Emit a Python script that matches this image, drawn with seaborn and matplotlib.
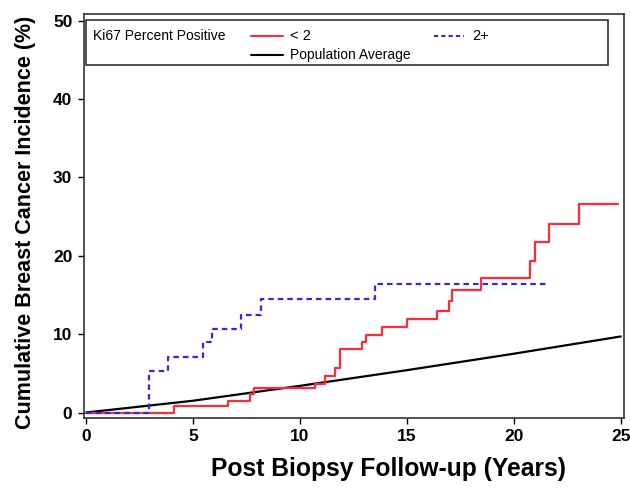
"""Cumulative breast cancer incidence by Ki67 group, step curves with population average."""
import matplotlib
matplotlib.use("Agg")
import matplotlib.pyplot as plt
from matplotlib.lines import Line2D
from matplotlib.patches import Rectangle
import pandas as pd
import seaborn as sns

# Ki67 < 2 group (step curve)
lt2_years = [0, 4.13, 6.63, 7.67, 7.84, 10.7, 11.16, 11.63, 11.87, 12.88, 13.1,
             13.86, 15.0, 16.4, 16.95, 17.1, 18.46, 20.75, 21.0, 21.64, 23.05, 24.85]
lt2_incidence = [0, 0.8, 1.5, 2.4, 3.15, 3.7, 4.7, 5.7, 8.1, 9.0, 9.9,
                 10.9, 11.9, 13.0, 14.2, 15.6, 17.2, 19.3, 21.7, 24.1, 26.6, 26.6]

# Ki67 2+ group (step curve)
p2_years = [0, 2.95, 3.81, 5.49, 5.9, 7.25, 8.19, 13.5, 21.6]
p2_incidence = [0, 5.3, 7.05, 9.0, 10.6, 12.5, 14.45, 16.4, 16.4]

# population average
pop_years = [0, 5, 10, 15, 20, 25]
pop_incidence = [0, 1.5, 3.4, 5.4, 7.5, 9.7]

x_ticks = [0, 5, 10, 15, 20, 25]
y_ticks = [0, 10, 20, 30, 40, 50]

sns.set_theme(style="ticks")
plt.rcParams["font.family"] = ["Liberation Sans", "DejaVu Sans"]
plt.rcParams["text.color"] = "black"
plt.rcParams["axes.labelcolor"] = "black"

df_lt2 = pd.DataFrame({"years": lt2_years, "inc": lt2_incidence})
df_p2 = pd.DataFrame({"years": p2_years, "inc": p2_incidence})
df_pop = pd.DataFrame({"years": pop_years, "inc": pop_incidence})

fig = plt.figure(figsize=(6.3, 4.9), dpi=100)
ax = fig.add_axes([83.5 / 630, 1 - 418 / 490, (624 - 83.5) / 630, (418 - 14) / 490])

red = "#ff2a3a"
blue = "#2b2be6"
sns.lineplot(data=df_pop, x="years", y="inc", ax=ax, color="black", linewidth=1.6)
sns.lineplot(data=df_lt2, x="years", y="inc", ax=ax, color=red, linewidth=1.6,
             drawstyle="steps-post")
sns.lineplot(data=df_p2, x="years", y="inc", ax=ax, color=blue, linewidth=1.6,
             drawstyle="steps-post", linestyle=(0, (2.5, 1.8)))

ax.set_xlim(-0.117, 25.15)
ax.set_ylim(-0.7, 50.83)
ax.set_xticks(x_ticks)
ax.set_yticks(y_ticks)
ax.tick_params(axis="both", direction="out", length=4, width=1, labelsize=12.5,
               colors="black", pad=4)
for lab in ax.get_xticklabels() + ax.get_yticklabels():
    lab.set_fontweight("bold")
for sp in ax.spines.values():
    sp.set_visible(True)
    sp.set_color("#333333")
    sp.set_linewidth(1.2)

ax.set_xlabel("Post Biopsy Follow-up (Years)", fontsize=17.7, fontweight="bold",
              color="black")
ax.set_ylabel("Cumulative Breast Cancer Incidence (%)", fontsize=15.5, fontweight="bold",
              color="black")
ax.xaxis.set_label_coords(0.565, -0.096)
ax.yaxis.set_label_coords(-0.088, 0.485)

# legend box drawn inside the axes
def fx(px):
    return (px - 83.5) / (624 - 83.5)

def fy(py):
    return (418 - py) / (418 - 14)

ax.add_patch(Rectangle((fx(86), fy(65)), fx(608) - fx(86), fy(20) - fy(65),
                       transform=ax.transAxes, fill=False, edgecolor="#333333",
                       linewidth=1.2, zorder=5))
ax.text(fx(93), fy(36), "Ki67 Percent Positive", transform=ax.transAxes,
        fontsize=10, va="center", ha="left")
ax.add_line(Line2D([fx(251), fx(283)], [fy(36), fy(36)], transform=ax.transAxes,
                   color=red, linewidth=1.5))
ax.text(fx(290), fy(36), "< 2", transform=ax.transAxes, fontsize=10.5, va="center")
ax.add_line(Line2D([fx(434), fx(464)], [fy(36), fy(36)], transform=ax.transAxes,
                   color=blue, linewidth=1.5, linestyle=(0, (2, 1.5))))
ax.text(fx(472), fy(36), "2+", transform=ax.transAxes, fontsize=10.5, va="center")
ax.add_line(Line2D([fx(251), fx(283)], [fy(55), fy(55)], transform=ax.transAxes,
                   color="black", linewidth=1.5))
ax.text(fx(290), fy(55), "Population Average", transform=ax.transAxes, fontsize=10,
        va="center")

fig.savefig("out.png", dpi=100)
